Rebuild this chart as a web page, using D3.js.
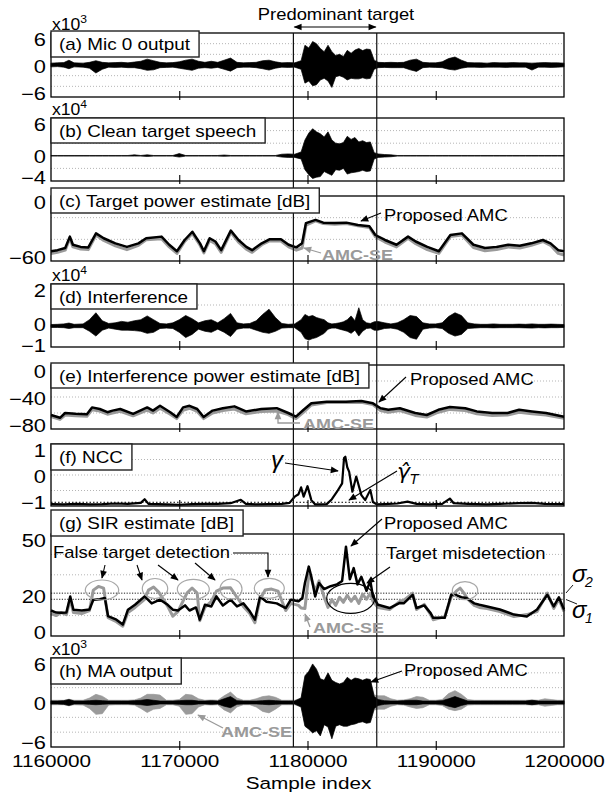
<!DOCTYPE html>
<html><head><meta charset="utf-8">
<script src="https://cdn.jsdelivr.net/npm/d3@7"></script>
<style>body{margin:0;background:#fff}svg{display:block}</style>
</head><body>
<svg id="chart" width="606" height="796"></svg>
<script>
// ---------------- DATA ----------------
const xTicks = [1160000, 1170000, 1180000, 1190000, 1200000];
const xTickLabels = ["1160000", "1170000", "1180000", "1190000", "1200000"];
const innerTicks = [1170000, 1180000, 1190000];
const targetSpan = [1178900, 1185400];
const panelLabels = ["(a) Mic 0 output", "(b) Clean target speech", "(c) Target power estimate [dB]",
  "(d) Interference", "(e) Interference power estimate [dB]", "(f) NCC", "(g) SIR estimate [dB]", "(h) MA output"];
const yTicksA = [-6, 0, 6], yTicksB = [-4, 0, 6], yTicksC = [-60, 0], yTicksD = [-1, 0, 2];
const yTicksE = [-80, -40, 0], yTicksF = [-1, 0, 1], yTicksG = [0, 20, 50], yTicksH = [-6, 0, 6];
const sigma1 = 18, sigma2 = 21, gammaT = -0.88;

// envelope sample positions for waveform panels (a), (b), (d), (h)
const envX = [1160000,1160500,1161000,1161400,1161800,1162500,1163000,1163500,1164000,1164500,
1165000,1165500,1166000,1166500,1167000,1167500,1168000,1168500,1169000,1169500,
1170000,1170500,1171000,1171500,1172000,1172500,1173000,1173500,1174000,1174500,
1175000,1175500,1176000,1176500,1177000,1177500,1178000,1178500,1179000,1179500,
1179800,1180100,1180400,1180700,1181000,1181300,1181600,1181900,1182200,1182500,
1182800,1183100,1183400,1183700,1184000,1184300,1184600,1184900,1185200,1185500,
1186000,1186500,1187000,1187500,1188000,1188500,1189000,1189500,1190000,1190500,
1191000,1191500,1192000,1192500,1193000,1193500,1194000,1194500,1195000,1195500,
1196000,1196500,1197000,1197500,1198000,1198500,1199000,1199500,1200000];

// (a) Mic 0 output, x10^3
const micHi = [0.35,0.4,0.45,0.9,0.4,0.35,0.5,0.8,0.5,0.4,
0.45,0.5,0.4,0.55,0.7,1.1,0.8,0.5,0.4,0.45,
0.6,0.9,1.1,0.7,0.5,0.7,0.5,0.9,1.3,0.5,
0.4,0.45,0.5,0.8,0.9,0.6,0.4,0.45,0.4,0.8,
3.7,3.2,4.4,4.0,3.1,2.5,3.7,2.5,1.8,2.0,
1.6,2.75,2.2,2.8,3.1,2.7,3.0,2.9,0.9,0.5,
0.45,0.5,0.45,0.5,0.9,1.1,0.5,0.4,0.4,0.6,
1.2,1.5,0.9,0.45,0.4,0.4,0.35,0.45,0.4,0.4,
0.45,0.4,0.4,0.35,0.4,0.45,0.4,0.4,0.35];
const micLo = [-0.35,-0.3,-0.4,-0.7,-0.35,-0.4,-0.6,-1.5,-0.8,-0.4,
-0.45,-0.4,-0.5,-0.5,-0.7,-1.0,-0.9,-0.5,-0.45,-0.4,
-0.6,-0.8,-1.0,-0.6,-0.5,-0.6,-0.45,-0.8,-1.15,-0.5,
-0.4,-0.4,-0.5,-0.7,-0.95,-0.6,-0.4,-0.45,-0.4,-0.8,
-3.4,-3.0,-3.9,-3.7,-2.8,-2.5,-3.0,-4.2,-2.2,-2.0,
-2.3,-2.8,-2.5,-2.6,-2.6,-2.4,-2.6,-2.5,-0.8,-0.5,
-0.45,-0.5,-0.5,-0.5,-0.9,-1.2,-0.5,-0.4,-0.45,-0.5,
-0.8,-0.95,-0.6,-0.4,-0.4,-0.45,-0.4,-0.4,-0.4,-0.45,
-0.4,-0.4,-0.4,-0.95,-0.4,-0.4,-0.45,-0.4,-0.35];

// (b) Clean target speech, x10^4
const cleanHi = [0.05,0.05,0.05,0.05,0.05,0.05,0.05,0.05,0.05,0.05,
0.05,0.05,0.05,0.15,0.05,0.15,0.05,0.05,0.05,0.05,
0.35,0.05,0.05,0.05,0.05,0.05,0.05,0.12,0.05,0.05,
0.05,0.05,0.05,0.05,0.05,0.05,0.25,0.3,0.25,0.6,
2.5,3.6,4.3,3.8,3.5,3.0,3.8,2.5,2.0,1.9,
2.1,3.1,2.6,2.9,2.2,2.4,2.1,2.2,0.5,0.3,
0.2,0.15,0.05,0.05,0.05,0.05,0.05,0.05,0.05,0.05,
0.05,0.05,0.05,0.05,0.05,0.05,0.05,0.05,0.05,0.05,
0.05,0.05,0.05,0.05,0.05,0.05,0.05,0.05,0.05];
const cleanLo = [-0.05,-0.05,-0.05,-0.05,-0.05,-0.05,-0.05,-0.05,-0.05,-0.05,
-0.05,-0.05,-0.05,-0.05,-0.05,-0.1,-0.05,-0.05,-0.05,-0.05,
-0.2,-0.05,-0.05,-0.05,-0.05,-0.05,-0.05,-0.08,-0.05,-0.05,
-0.05,-0.05,-0.05,-0.05,-0.05,-0.05,-0.2,-0.25,-0.25,-0.5,
-2.2,-3.0,-3.6,-3.4,-3.3,-2.5,-2.8,-3.1,-2.2,-2.3,
-2.0,-2.9,-2.7,-2.6,-2.5,-2.3,-2.5,-2.4,-0.5,-0.25,
-0.2,-0.15,-0.05,-0.05,-0.05,-0.05,-0.05,-0.05,-0.05,-0.05,
-0.05,-0.05,-0.05,-0.05,-0.05,-0.05,-0.05,-0.05,-0.05,-0.05,
-0.05,-0.05,-0.05,-0.05,-0.05,-0.05,-0.05,-0.05,-0.05];

// (d) Interference, x10^4
const intfHi = [0.07,0.08,0.1,0.14,0.08,0.1,0.3,0.63,0.25,0.12,
0.15,0.22,0.18,0.25,0.3,0.48,0.3,0.12,0.1,0.15,
0.3,0.5,0.35,0.15,0.25,0.3,0.15,0.35,0.6,0.15,
0.1,0.12,0.25,0.55,0.8,0.4,0.12,0.08,0.1,0.3,
0.55,0.45,0.5,0.4,0.35,0.3,0.15,0.1,0.12,0.15,
0.2,0.3,0.48,0.25,0.87,0.3,0.15,0.12,0.2,0.22,
0.15,0.1,0.15,0.3,0.5,0.45,0.15,0.1,0.1,0.15,
0.45,0.63,0.5,0.15,0.1,0.08,0.08,0.1,0.08,0.08,
0.08,0.09,0.08,0.1,0.08,0.08,0.09,0.08,0.07];
const intfLo = [-0.07,-0.07,-0.08,-0.12,-0.08,-0.08,-0.25,-0.48,-0.2,-0.1,
-0.15,-0.2,-0.2,-0.22,-0.25,-0.35,-0.3,-0.12,-0.1,-0.12,
-0.3,-0.55,-0.4,-0.15,-0.25,-0.3,-0.15,-0.3,-0.5,-0.15,
-0.1,-0.1,-0.2,-0.3,-0.35,-0.25,-0.1,-0.08,-0.08,-0.3,
-0.6,-0.67,-0.6,-0.55,-0.45,-0.35,-0.15,-0.1,-0.1,-0.15,
-0.2,-0.25,-0.35,-0.2,-0.48,-0.25,-0.12,-0.1,-0.2,-0.2,
-0.12,-0.1,-0.15,-0.3,-0.55,-0.63,-0.15,-0.1,-0.08,-0.12,
-0.35,-0.48,-0.4,-0.12,-0.1,-0.08,-0.08,-0.09,-0.08,-0.08,
-0.08,-0.08,-0.09,-0.1,-0.08,-0.09,-0.08,-0.08,-0.07];

// (h) MA output, x10^3 : proposed AMC (black) and AMC-SE (gray)
const maPropHi = [0.2,0.2,0.25,0.4,0.2,0.2,0.25,0.3,0.25,0.2,
0.2,0.2,0.2,0.25,0.3,0.4,0.3,0.2,0.2,0.2,
0.25,0.3,0.3,0.2,0.2,0.25,0.2,0.5,0.8,0.25,
0.2,0.2,0.2,0.25,0.3,0.25,0.2,0.2,0.2,0.6,
3.6,4.2,5.2,4.5,3.2,3.0,4.0,3.0,2.7,2.5,
2.7,3.4,3.0,3.3,3.2,3.0,3.2,3.1,0.8,0.4,
0.25,0.2,0.2,0.25,0.3,0.3,0.2,0.2,0.2,0.25,
0.5,0.8,0.5,0.2,0.2,0.2,0.2,0.2,0.2,0.2,
0.2,0.2,0.2,0.3,0.2,0.2,0.2,0.2,0.2];
const maPropLo = [-0.2,-0.2,-0.25,-0.4,-0.2,-0.2,-0.25,-0.3,-0.25,-0.2,
-0.2,-0.2,-0.2,-0.25,-0.3,-0.4,-0.3,-0.2,-0.2,-0.2,
-0.25,-0.3,-0.3,-0.2,-0.2,-0.25,-0.2,-0.5,-0.7,-0.25,
-0.2,-0.2,-0.2,-0.25,-0.3,-0.25,-0.2,-0.2,-0.2,-0.6,
-3.2,-3.6,-4.1,-3.8,-4.5,-3.0,-3.3,-4.9,-3.2,-3.0,
-3.2,-3.2,-3.0,-2.9,-2.7,-2.6,-2.8,-2.7,-0.8,-0.4,
-0.25,-0.2,-0.2,-0.25,-0.3,-0.3,-0.2,-0.2,-0.2,-0.25,
-0.5,-0.7,-0.4,-0.2,-0.2,-0.2,-0.2,-0.2,-0.2,-0.2,
-0.2,-0.2,-0.2,-0.3,-0.2,-0.2,-0.2,-0.2,-0.2];
const maSeHi = [0.3,0.3,0.3,0.45,0.3,0.3,0.6,1.1,0.85,0.3,
0.3,0.3,0.3,0.35,0.6,1.1,1.1,1.0,0.3,0.3,
0.4,1.1,1.0,0.5,0.3,0.35,0.3,0.9,1.4,0.6,
0.3,0.3,0.5,0.8,0.9,0.7,0.3,0.3,0.3,0.6,
3.4,4.0,5.0,4.3,3.0,2.9,3.8,2.9,2.6,2.4,
2.6,3.2,2.9,3.1,3.0,2.9,3.0,3.0,1.0,0.9,
0.9,0.5,0.3,0.35,0.5,0.8,0.7,0.3,0.3,0.4,
1.2,1.6,1.1,0.4,0.3,0.3,0.3,0.3,0.3,0.3,
0.3,0.3,0.3,0.35,0.3,0.5,0.4,0.3,0.3];
const maSeLo = [-0.3,-0.3,-0.3,-0.45,-0.3,-0.35,-0.8,-1.6,-1.5,-0.35,
-0.3,-0.3,-0.3,-0.35,-0.8,-1.35,-0.9,-0.8,-0.3,-0.3,
-0.5,-1.6,-1.5,-0.6,-0.3,-0.35,-0.3,-1.0,-1.4,-0.6,
-0.3,-0.3,-0.6,-1.2,-1.4,-0.9,-0.3,-0.3,-0.3,-0.6,
-3.0,-3.4,-3.9,-3.6,-4.3,-2.9,-3.1,-4.7,-3.0,-2.9,
-3.0,-3.0,-2.9,-2.8,-2.6,-2.5,-2.7,-2.6,-1.0,-0.9,
-0.9,-0.5,-0.3,-0.35,-0.6,-0.8,-0.7,-0.3,-0.3,-0.4,
-0.9,-1.1,-0.9,-0.35,-0.3,-0.3,-0.3,-0.3,-0.3,-0.3,
-0.3,-0.3,-0.3,-0.35,-0.3,-0.5,-0.4,-0.3,-0.3];

// (c) Target power estimate [dB]
const tpX = [1160000,1160510,1161110,1161470,1161710,1162310,1162910,1163510,1164110,1165020,
1165920,1166820,1167420,1168620,1169220,1169820,1170420,1171020,1171620,1171920,
1172370,1172820,1173270,1174020,1174620,1175230,1175680,1176430,1177030,1177930,
1178530,1179130,1179580,1179880,1180630,1181230,1182130,1183030,1183930,1184830,
1185290,1186040,1186940,1187840,1188440,1189340,1190240,1191140,1192040,1192940,
1193840,1194740,1195650,1196550,1197450,1198350,1198950,1199550,1200000];
const tpProp = [-51,-50,-48,-37.5,-45,-47,-47.5,-34.5,-39,-43.7,
-47,-43.7,-39,-37.5,-45,-51,-40.6,-33,-43.7,-51,
-39,-42,-50,-32,-40.6,-47,-50,-43.7,-40,-40,
-45,-47.4,-43.7,-25,-22,-24.6,-25,-24.6,-26.8,-28,
-36,-40.6,-45,-37.5,-42,-47,-51,-36,-34.5,-45,
-48,-47,-45,-46,-43.7,-40.6,-43.7,-50,-51];
const tpSe = [-53,-52,-50,-39,-47,-49,-49.5,-36,-41,-46,
-49.5,-45.5,-40.5,-39.5,-47,-53,-42,-34.5,-45.5,-52.5,
-41,-44,-52,-33.5,-42.5,-49,-52,-45,-41.5,-41.5,
-47,-50,-48,-27,-23,-25.5,-26,-25.5,-27.5,-29,
-37.5,-42.5,-47,-39,-44,-49.5,-53,-37.5,-36,-47.5,
-50.5,-49.5,-47,-48,-45.5,-42,-45.5,-53,-54.5];

// (e) Interference power estimate [dB]
const ipX = [1160000,1160700,1161100,1161900,1162800,1163200,1163800,1164400,1164800,1165400,
1166400,1167500,1167950,1168500,1169300,1169800,1170300,1170800,1171400,1171900,
1172600,1173400,1174300,1175200,1176400,1177600,1178500,1179100,1179700,1180300,
1181500,1183000,1184200,1185100,1185700,1186300,1187200,1188400,1189300,1190200,
1191100,1192300,1193200,1194400,1195600,1196500,1197500,1198600,1200000];
const ipProp = [-62.5,-66,-60,-61,-61.5,-53,-55,-59,-57,-55,
-61,-53,-57,-51,-59,-65,-53,-51,-55,-65,
-57,-54,-51.7,-58,-55,-54,-60,-64.6,-56,-47.9,
-45.8,-45.8,-45,-47.9,-54,-56,-54,-60,-62.5,-56,
-52.5,-54,-58,-60,-60,-56,-58,-60,-64.6];
const ipSe = [-64.5,-68,-62.5,-63.5,-64,-56,-57.5,-61.5,-60,-58,
-63.5,-56.5,-60,-54,-61.5,-67,-56.5,-54,-58,-67,
-60,-57,-55,-61,-58,-57.5,-62,-67,-59,-50,
-47,-47,-46.5,-49.5,-57,-59,-57,-63,-65,-59,
-55.5,-57,-61,-63,-62.5,-59,-61,-62.5,-66.5];

// (f) NCC
const nccX = [1160000,1161000,1162000,1163000,1164000,1165000,1166000,1167000,1167300,1167600,
1169000,1170000,1171000,1172000,1173000,1174000,1174800,1175200,1176000,1177000,
1178000,1178600,1179000,1179300,1179500,1179700,1180000,1180300,1180600,1181000,
1181500,1181900,1182300,1182700,1182850,1182950,1183100,1183250,1183500,1183800,
1184200,1184500,1184900,1185100,1185400,1186000,1187000,1187800,1188500,1189500,
1190500,1191100,1191400,1192500,1194000,1195000,1196500,1197500,1198500,1200000];
const ncc = [-0.94,-0.95,-0.93,-0.95,-0.94,-0.92,-0.93,-0.9,-0.78,-0.93,
-0.95,-0.96,-0.94,-0.93,-0.93,-0.91,-0.8,-0.93,-0.95,-0.94,
-0.93,-0.9,-0.7,-0.62,-0.4,-0.7,-0.36,-0.81,-0.95,-0.95,
-0.94,-0.78,-0.54,-0.27,0.55,0.59,0.25,0.1,-0.54,-0.05,
-0.65,-0.81,-0.48,-0.87,-0.95,-0.94,-0.92,-0.86,-0.93,-0.95,
-0.93,-0.76,-0.91,-0.93,-0.95,-0.93,-0.91,-0.9,-0.93,-0.94];

// (g) SIR estimate [dB]
const sirPropX = [1160000,1160400,1160800,1161200,1161500,1161750,1162400,1163000,1163300,1163800,
1164200,1164450,1165100,1165600,1166000,1166550,1167300,1167850,1168500,1169100,
1169500,1169900,1170450,1170800,1171300,1171600,1172000,1172500,1172900,1173400,
1174000,1174500,1175000,1175500,1175900,1176300,1176800,1177600,1178300,1178700,
1179300,1179600,1179800,1180100,1180300,1180600,1180900,1181300,1181800,1182300,
1182700,1183000,1183300,1183600,1183900,1184200,1184600,1184900,1185100,1185500,
1186400,1187200,1187500,1188200,1188500,1189100,1189600,1189800,1190700,1191200,
1191600,1192000,1192400,1193000,1193400,1194000,1195000,1196100,1197100,1197900,
1198700,1199200,1199600,1200000];
const sirProp = [12.5,11.5,11.4,11.5,19.4,12.9,12.5,13,17.8,18,
18.6,9.7,8,5.6,12.9,15.3,19.4,16,17.8,15.3,
12.9,12.5,15,12.5,14,8,15.3,14.5,19.4,15,
17.8,14.5,16,12.1,8,19.4,16.8,16,13.7,17.8,
17,18.6,26,34,29,19.4,26,23,24.4,25.3,
27,43.8,27.8,33.3,25.3,29,22.2,27,19.4,15.3,
13.7,16.2,16,20.2,13.7,15,11.2,8.9,8.9,20.2,
20,19,18.6,16,15.3,14.5,13,10.5,9.6,13,
20.2,14.5,19,13];
const sirSeX = [1160000,1160400,1160800,1161200,1161500,1161750,1162400,1163000,1163300,1163700,
1164100,1164450,1165100,1165600,1166000,1166550,1167300,1167600,1168000,1168400,
1169100,1169500,1169900,1170600,1171000,1171400,1171600,1172000,1172500,1172900,
1173400,1174000,1174500,1175000,1175500,1175900,1176300,1176700,1177200,1177700,
1178300,1178700,1179300,1179500,1179800,1180100,1180300,1180600,1180900,1181300,
1181600,1181900,1182200,1182500,1182800,1183100,1183400,1183700,1184000,1184300,
1184600,1184900,1185100,1185500,1186400,1187200,1187500,1188200,1188500,1189100,
1189600,1189800,1190700,1191200,1191600,1191900,1192200,1192500,1193000,1193400,
1194000,1195000,1196100,1197100,1197900,1198700,1199200,1199600,1200000];
const sirSe = [11,10,11.5,10.5,18,11.5,11,12.5,22.5,24.3,
23.5,9,7,4.8,11.5,14,18,22.5,24,21.5,
14.5,9.7,12,21,23.5,21,7.5,14,17,22,
23.5,23.6,19,14.5,11,6.5,18,22.5,23,22,
12.5,16,15,13.7,13.5,30,28,22,27,19,
14,17.8,15,19,16.5,20,17,19.5,16,20.5,
18,21,17,14,13,17,17.5,21,13,15.5,
10.5,8,9.5,19,22,23.5,21,18,15,14,
13.5,12,9.5,10.5,12,21,13.5,18,12];

// ---------------- DRAWING ----------------
const FONT = "'Liberation Sans', Arial, Helvetica, sans-serif";
const GRAY = "#9a9a9a";
const svg = d3.select('#chart');
const X0 = 51, X1 = 564;
const x = d3.scaleLinear().domain([1160000, 1200000]).range([X0, X1]);

const defs = svg.append('defs');
function mk(id, color) {
  defs.append('marker').attr('id', id).attr('viewBox', '0 0 10 10')
    .attr('refX', 9).attr('refY', 5).attr('markerWidth', 9).attr('markerHeight', 8)
    .attr('markerUnits', 'userSpaceOnUse').attr('orient', 'auto-start-reverse')
    .append('path').attr('d', 'M0,0.8L10,5L0,9.2Z').attr('fill', color);
}
mk('ah', '#000'); mk('ahg', GRAY);

function txt(g, tx, ty, s, o = {}) {
  const sx = o.sx ?? 1.15;
  const t = g.append('text')
    .attr('transform', `translate(${tx},${ty}) scale(${sx},1)`)
    .attr('font-family', o.family ?? FONT).attr('font-size', o.fs ?? 16)
    .attr('text-anchor', o.anchor ?? 'start').attr('fill', o.fill ?? '#000');
  if (o.bold) t.attr('font-weight', 'bold');
  if (o.italic) t.attr('font-style', 'italic');
  t.text(s);
  return t;
}
function arrow(g, pts, color = '#000', w = 1.1, both = false) {
  const p = g.append('path').attr('d', d3.line()(pts)).attr('fill', 'none')
    .attr('stroke', color).attr('stroke-width', w)
    .attr('marker-end', `url(#${color === '#000' ? 'ah' : 'ahg'})`);
  if (both) p.attr('marker-start', 'url(#ah)');
}

const gGrid = svg.append('g'), gData = svg.append('g'), gFrame = svg.append('g');
const gVert = svg.append('g'), gBox = svg.append('g'), gAnn = svg.append('g');

const P = {
  a: {top: 33, bot: 97, dom: [-6, 6], ticks: yTicksA, grid: [-4, -2, 2, 4], label: panelLabels[0], exp: '3', boxTop: 31, boxH: 26},
  b: {top: 118, bot: 181, dom: [-4, 6], ticks: yTicksB, grid: [-2, 2, 4], label: panelLabels[1], exp: '4', boxTop: 118, boxH: 25},
  c: {top: 196, bot: 261, dom: [-60, 0], ticks: yTicksC, grid: [-40, -20], label: panelLabels[2], boxTop: 188, boxH: 25},
  d: {top: 284, bot: 347, dom: [-1, 2], ticks: yTicksD, grid: [1], label: panelLabels[3], exp: '4', boxTop: 284, boxH: 25, botPad: 1.5, mid: -1.5},
  e: {top: 365, bot: 429, dom: [-80, 0], ticks: yTicksE, grid: [-60, -40, -20], label: panelLabels[4], boxTop: 363, boxH: 25},
  f: {top: 444, bot: 506, dom: [-1, 1], ticks: yTicksF, grid: [-0.5, 0, 0.5], label: panelLabels[5], boxTop: 444, boxH: 26},
  g: {top: 534, bot: 636, dom: [0, 50], ticks: yTicksG, grid: [10, 30, 40], label: panelLabels[6], boxTop: 510, boxH: 26},
  h: {top: 658, bot: 747, dom: [-6, 6], ticks: yTicksH, grid: [-4, -2, 2, 4], label: panelLabels[7], exp: '3', boxTop: 658, boxH: 26, botPad: 5}
};

Object.values(P).forEach(p => {
  p.y = d3.scaleLinear().domain(p.dom).range([p.bot, p.top]);
  gGrid.selectAll(null).data(p.grid).join('line')
    .attr('x1', X0).attr('x2', X1).attr('y1', d => p.y(d)).attr('y2', d => p.y(d))
    .attr('stroke', '#b5b5b5').attr('stroke-width', 1).attr('stroke-dasharray', '1,2');
  gFrame.append('rect').attr('x', X0).attr('y', p.top).attr('width', X1 - X0).attr('height', p.bot - p.top)
    .attr('fill', 'none').attr('stroke', '#000').attr('stroke-width', 1.3);
  const ta = gFrame.append('g').attr('transform', `translate(0,${p.bot + 3})`)
    .call(d3.axisBottom(x).tickValues(innerTicks).tickSizeInner(-9).tickSizeOuter(0).tickFormat(''));
  ta.select('.domain').remove();
  ta.selectAll('line').attr('stroke', '#000').attr('stroke-width', 1.1);
  const ya = gFrame.append('g').attr('transform', `translate(${X0},0)`)
    .call(d3.axisLeft(p.y).tickValues(p.ticks).tickSize(0).tickPadding(4).tickFormat(d3.format('d')));
  ya.select('.domain').remove();
  ya.attr('font-family', FONT).attr('font-size', 17.5);
  ya.selectAll('text').attr('fill', '#000').attr('dy', '0.35em')
    .attr('transform', 'scale(1.25,1)')
    .each(function (d) {
      const yy = p.y(d);
      const c = Math.max(p.top + 6.5, Math.min(p.bot - (p.botPad ?? 3.5), yy + (p.mid ?? 1)));
      d3.select(this).attr('y', c - yy);
    });
  if (p.exp) {
    const t = gFrame.append('text').attr('transform', `translate(${X0 + 1},${p.top - 3.5}) scale(1.1,1)`)
      .attr('font-family', FONT).attr('font-size', 16);
    t.append('tspan').text('x10');
    t.append('tspan').attr('font-size', 11).attr('dy', -7).text(p.exp);
  }
});

// ------- waveform envelopes -------
function env(p, hi, lo, color) {
  const data = envX.map((s, i) => ({s, hi: hi[i], lo: lo[i]}));
  gData.append('path').datum(data)
    .attr('d', d3.area().x(d => x(d.s)).y0(d => p.y(d.lo)).y1(d => p.y(d.hi)))
    .attr('fill', color).attr('stroke', color).attr('stroke-width', 0.7).attr('stroke-linejoin', 'round');
}
env(P.a, micHi, micLo, '#000');
env(P.b, cleanHi, cleanLo, '#000');
env(P.d, intfHi, intfLo, '#000');
env(P.h, maSeHi, maSeLo, GRAY);
env(P.h, maPropHi, maPropLo, '#000');

// ------- line series -------
function line(p, xs, ys, color, w) {
  gData.append('path').datum(xs.map((s, i) => [s, ys[i]]))
    .attr('d', d3.line().x(d => x(d[0])).y(d => p.y(d[1])))
    .attr('fill', 'none').attr('stroke', color).attr('stroke-width', w).attr('stroke-linejoin', 'round');
}
line(P.c, tpX, tpSe, GRAY, 3);
line(P.c, tpX, tpProp, '#000', 2.5);
line(P.e, ipX, ipSe, GRAY, 3);
line(P.e, ipX, ipProp, '#000', 2.5);
gData.append('line').attr('x1', X0).attr('x2', X1).attr('y1', P.f.y(gammaT)).attr('y2', P.f.y(gammaT))
  .attr('stroke', '#000').attr('stroke-width', 1).attr('stroke-dasharray', '1.5,2');
line(P.f, nccX, ncc, '#000', 2.2);
[sigma1, sigma2].forEach(v => gData.append('line').attr('x1', X0).attr('x2', X1)
  .attr('y1', P.g.y(v)).attr('y2', P.g.y(v)).attr('stroke', '#000').attr('stroke-width', 0.9).attr('stroke-dasharray', '1.2,1.5'));
line(P.g, sirSeX, sirSe, GRAY, 3);
line(P.g, sirPropX, sirProp, '#000', 2.5);

// ------- predominant target vertical lines -------
targetSpan.forEach(s => gVert.append('line').attr('x1', x(s)).attr('x2', x(s))
  .attr('y1', P.a.top).attr('y2', P.h.bot).attr('stroke', '#111').attr('stroke-width', 1.2));

// ------- label boxes -------
Object.values(P).forEach(p => {
  const sx = 1.18;
  const t = txt(gBox, X0 + 8, p.boxTop + 19, p.label, {fs: 16, sx});
  const w = t.node().getComputedTextLength() * sx;
  gBox.insert('rect', () => t.node()).attr('x', X0).attr('y', p.boxTop)
    .attr('width', w + 17).attr('height', p.boxH)
    .attr('fill', '#fff').attr('stroke', '#222').attr('stroke-width', 1.4);
});

// ------- annotations -------
txt(gAnn, 336, 20, 'Predominant target', {anchor: 'middle'});
arrow(gAnn, [[x(targetSpan[0]) + 1, 27], [x(targetSpan[1]) - 1, 27]], '#000', 1.2, true);

// (c)
txt(gAnn, 384, 221, 'Proposed AMC');
arrow(gAnn, [[381, 213], [361, 221]]);
txt(gAnn, 322, 260, 'AMC-SE', {bold: true, fill: GRAY, fs: 15, sx: 1.2});
arrow(gAnn, [[321, 253], [304, 248]], GRAY, 1.3);

// (e)
txt(gAnn, 410, 385, 'Proposed AMC');
arrow(gAnn, [[406, 377], [379, 402]]);
txt(gAnn, 303, 428.5, 'AMC-SE', {bold: true, fill: GRAY, fs: 15, sx: 1.2});
arrow(gAnn, [[300, 423], [278, 423], [278, 412]], GRAY, 1.3);

// (f)
txt(gAnn, 277, 468, 'γ', {italic: true, fs: 24, sx: 1, anchor: 'middle'});
arrow(gAnn, [[285, 463], [338, 471]]);
{
  const t = gAnn.append('text').attr('transform', 'translate(397,479)')
    .attr('font-family', "'DejaVu Sans', 'Liberation Sans', sans-serif").attr('font-style', 'italic').attr('font-size', 22);
  t.append('tspan').text('γ\u0302');
  t.append('tspan').attr('font-size', 14).attr('dy', 5).text('T');
}
arrow(gAnn, [[397, 471], [349, 500]]);

// (g)
txt(gAnn, 384, 529, 'Proposed AMC');
arrow(gAnn, [[382, 519], [351, 546]]);
txt(gAnn, 53, 558, 'False target detection');
arrow(gAnn, [[233, 553], [268, 553], [268, 577]]);
arrow(gAnn, [[105, 565], [102, 578]]);
arrow(gAnn, [[137, 565], [142, 580]]);
arrow(gAnn, [[158, 565], [178, 580]]);
arrow(gAnn, [[195, 563], [215, 580]]);
txt(gAnn, 386, 559, 'Target misdetection');
arrow(gAnn, [[390, 567], [367, 583]]);
txt(gAnn, 313, 633, 'AMC-SE', {bold: true, fill: GRAY, fs: 15, sx: 1.2});
arrow(gAnn, [[310, 627], [305, 614]], GRAY, 1.3);
[[102, 590, 16.7, 10], [155, 588.5, 12.7, 10], [193.3, 589.3, 16, 10], [231, 589, 11, 10], [269.3, 588.3, 15, 10], [465, 590.7, 12.7, 9]]
  .forEach(e => gAnn.append('ellipse').attr('cx', e[0]).attr('cy', e[1]).attr('rx', e[2]).attr('ry', e[3])
    .attr('fill', 'none').attr('stroke', '#a8a8a8').attr('stroke-width', 1.2));
gAnn.append('ellipse').attr('cx', 350.7).attr('cy', 598.3).attr('rx', 24).attr('ry', 15)
  .attr('fill', 'none').attr('stroke', '#000').attr('stroke-width', 1.2);
txt(gAnn, 572, 581.5, 'σ', {italic: true, fs: 24, sx: 1});
txt(gAnn, 585, 587, '2', {italic: true, fs: 14, sx: 1});
txt(gAnn, 572, 618, 'σ', {italic: true, fs: 24, sx: 1});
txt(gAnn, 585, 623, '1', {italic: true, fs: 14, sx: 1});
gAnn.append('path').attr('d', d3.line()([[573, 585], [566, 593]])).attr('stroke', '#000').attr('stroke-width', 0.9);
gAnn.append('path').attr('d', d3.line()([[577, 604], [566, 599.5]])).attr('stroke', '#000').attr('stroke-width', 0.9);

// (h)
txt(gAnn, 404, 676, 'Proposed AMC');
arrow(gAnn, [[402, 671], [371, 682]]);
txt(gAnn, 221, 737, 'AMC-SE', {bold: true, fill: GRAY, fs: 15, sx: 1.2});
arrow(gAnn, [[223, 728], [198, 715]], GRAY, 1.3);

// ------- x axis -------
const xa = svg.append('g').attr('transform', `translate(0,${P.h.bot})`)
  .call(d3.axisBottom(x).tickValues(xTicks).tickFormat((d, i) => xTickLabels[i]).tickSize(0).tickPadding(8));
xa.select('.domain').remove();
xa.attr('font-family', FONT).attr('font-size', 17);
xa.selectAll('text').attr('fill', '#000').attr('transform', 'scale(1.22,1)');
txt(svg, (X0 + X1) / 2 + 1, 789, 'Sample index', {fs: 17, sx: 1.22, anchor: 'middle'});
</script>
</body></html>
